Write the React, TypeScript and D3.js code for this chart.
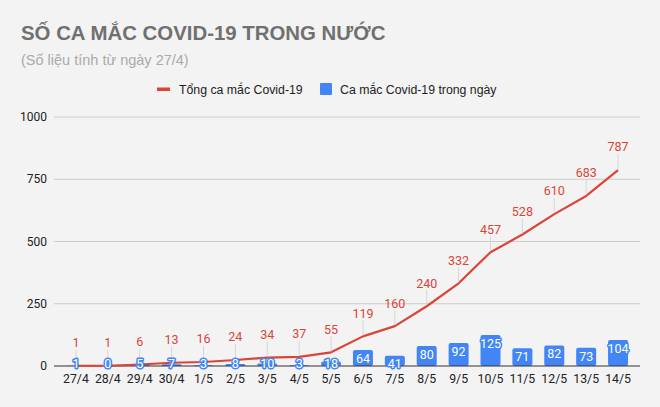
import React, { useEffect, useRef } from "react";
import * as d3 from "d3";

// chart data
const days = ["27/4", "28/4", "29/4", "30/4", "1/5", "2/5", "3/5", "4/5", "5/5", "6/5", "7/5", "8/5", "9/5", "10/5", "11/5", "12/5", "13/5", "14/5"];
const totalCases = [1, 1, 6, 13, 16, 24, 34, 37, 55, 119, 160, 240, 332, 457, 528, 610, 683, 787];
const dailyCases = [1, 0, 5, 7, 3, 8, 10, 3, 18, 64, 41, 80, 92, 125, 71, 82, 73, 104];
const yTicks = [0, 250, 500, 750, 1000];

const W = 660;
const H = 407;
const RED = "#db4437";
const BLUE = "#4285f4";

const App: React.FC = () => {
  const svgRef = useRef<SVGSVGElement | null>(null);

  useEffect(() => {
    if (!svgRef.current) return;
    const svg = d3.select(svgRef.current);
    svg.selectAll("*").remove();

    svg.append("rect").attr("width", W).attr("height", H).attr("fill", "#f3f3f3");

    // title + subtitle
    svg.append("text")
      .attr("x", 21).attr("y", 39.5)
      .attr("font-family", "'Liberation Sans', Arial, sans-serif")
      .attr("font-weight", "bold").attr("font-size", 20.4)
      .attr("fill", "#707070")
      .text("SỐ CA MẮC COVID-19 TRONG NƯỚC");
    svg.append("text")
      .attr("x", 21).attr("y", 65)
      .attr("font-family", "'Liberation Sans', Arial, sans-serif")
      .attr("font-size", 14.5)
      .attr("fill", "#aaaaaa")
      .text("(Số liệu tính từ ngày 27/4)");

    // legend
    const lg = svg.append("g").attr("font-family", "'Liberation Sans', Arial, sans-serif").attr("font-size", 12.3).attr("fill", "#222");
    lg.append("rect").attr("x", 157).attr("y", 87.5).attr("width", 13).attr("height", 3.5).attr("fill", RED);
    lg.append("text").attr("x", 179).attr("y", 93.5).text("Tổng ca mắc Covid-19");
    lg.append("rect").attr("x", 320).attr("y", 83).attr("width", 12).attr("height", 12).attr("rx", 1).attr("fill", BLUE);
    lg.append("text").attr("x", 340).attr("y", 93.5).text("Ca mắc Covid-19 trong ngày");

    const x = d3.scaleBand<string>().domain(days).range([60, 634]);
    const y = d3.scaleLinear().domain([0, 1000]).range([366, 117]);

    // gridlines + y labels
    const grid = svg.append("g");
    yTicks.forEach((t) => {
      if (t > 0) {
        grid.append("line")
          .attr("x1", 54).attr("x2", 640)
          .attr("y1", y(t)).attr("y2", y(t))
          .attr("stroke", "#cccccc").attr("stroke-width", 1);
      }
      grid.append("text")
        .attr("x", 47).attr("y", y(t)).attr("dy", "0.35em")
        .attr("text-anchor", "end")
        .attr("font-family", "Roboto, sans-serif").attr("font-size", 12)
        .attr("fill", "#222")
        .text(t);
    });

    const cx = (d: string) => (x(d) ?? 0) + x.bandwidth() / 2;
    const barW = 20;

    // bars
    svg.append("g").selectAll("rect")
      .data(dailyCases)
      .enter()
      .append("rect")
      .attr("x", (_, i) => cx(days[i]) - barW / 2)
      .attr("y", (d) => y(d))
      .attr("width", barW)
      .attr("height", (d) => y(0) - y(d))
      .attr("rx", 2)
      .attr("fill", BLUE);

    // axis line
    svg.append("line")
      .attr("x1", 54).attr("x2", 640)
      .attr("y1", y(0)).attr("y2", y(0))
      .attr("stroke", "#333").attr("stroke-width", 1.2);

    // total line
    const line = d3.line<number>()
      .x((_, i) => cx(days[i]))
      .y((d) => y(d));
    svg.append("path")
      .datum(totalCases)
      .attr("d", line)
      .attr("fill", "none")
      .attr("stroke", RED)
      .attr("stroke-width", 2.2)
      .attr("stroke-linejoin", "round");

    // leader lines + red labels
    const lab = svg.append("g").attr("font-family", "Roboto, sans-serif").attr("font-size", 12.5);
    totalCases.forEach((v, i) => {
      lab.append("line")
        .attr("x1", cx(days[i])).attr("x2", cx(days[i]))
        .attr("y1", y(v) - 16).attr("y2", y(v) - 1)
        .attr("stroke", "#d6d6d6").attr("stroke-width", 1);
      lab.append("text")
        .attr("x", cx(days[i])).attr("y", y(v) - 23).attr("dy", "0.35em")
        .attr("text-anchor", "middle")
        .attr("fill", RED)
        .text(v);
    });

    // bar labels (white with blue halo)
    const bl = svg.append("g").attr("font-family", "Roboto, sans-serif").attr("font-size", 12.5).attr("text-anchor", "middle");
    dailyCases.forEach((v, i) => {
      const ty = Math.min(y(v) + 8.5, 363.5);
      bl.append("text")
        .attr("x", cx(days[i])).attr("y", ty).attr("dy", "0.35em")
        .attr("fill", "#fff")
        .attr("stroke", BLUE).attr("stroke-width", 3)
        .attr("paint-order", "stroke")
        .attr("stroke-linejoin", "round")
        .text(v);
    });

    // x labels
    svg.append("g").selectAll("text")
      .data(days)
      .enter()
      .append("text")
      .attr("x", (d) => cx(d))
      .attr("y", 378.5)
      .attr("dy", "0.35em")
      .attr("text-anchor", "middle")
      .attr("font-family", "Roboto, sans-serif")
      .attr("font-size", 12.3)
      .attr("fill", "#222")
      .text((d) => d);
  }, []);

  return (
    <svg ref={svgRef} width={W} height={H} style={{ position: "absolute", left: 0, top: 0, display: "block" }} />
  );
};

export default App;
